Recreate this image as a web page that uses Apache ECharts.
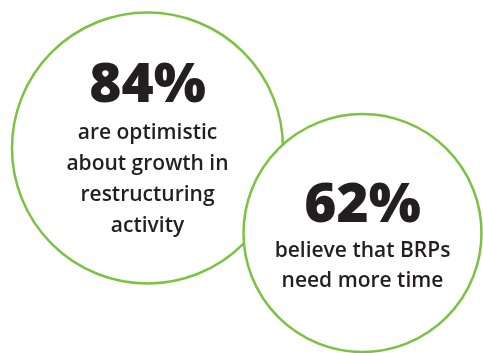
<!DOCTYPE html>
<html>
<head>
<meta charset="utf-8">
<style>
  html, body { margin: 0; padding: 0; background: #ffffff; }
  #chart { width: 483px; height: 353px; }
</style>
<script src="https://cdn.jsdelivr.net/npm/echarts@6/dist/echarts.min.js"></script>
</head>
<body>
<div id="chart"></div>
<script>
// Headline shares and the statements they describe
var shares = [84, 62];
var statements = [
  ['are optimistic', 'about growth in', 'restructuring', 'activity'],
  ['believe that BRPs', 'need more time']
];

// Bubble layout: centre, radius, headline middle, first body line middle, line gap
var bubbles = [
  { cx: 147.5, cy: 148, r: 135.5, headY: 86, bodyY: 133, gap: 31 },
  { cx: 362.5, cy: 233, r: 119, headY: 206, bodyY: 251, gap: 30 }
];

var GREEN = '#7cc242';
var INK = '#231f20';
var FONT = '"Open Sans", "Noto Sans", sans-serif';

var elements = [];
bubbles.forEach(function (b, i) {
  var group = {
    type: 'group',
    children: [
      {
        type: 'circle',
        shape: { cx: b.cx, cy: b.cy, r: b.r },
        style: { fill: '#ffffff', stroke: GREEN, lineWidth: 2.5 }
      },
      {
        type: 'text',
        style: {
          text: shares[i] + '%',
          x: b.cx, y: b.headY,
          textAlign: 'center', textVerticalAlign: 'middle',
          fill: INK,
          font: '800 55px ' + FONT
        }
      }
    ]
  };
  statements[i].forEach(function (line, k) {
    group.children.push({
      type: 'text',
      style: {
        text: line,
        x: b.cx, y: b.bodyY + k * b.gap,
        textAlign: 'center', textVerticalAlign: 'middle',
        fill: INK,
        font: '600 21px ' + FONT
      }
    });
  });
  elements.push(group);
});

var chart = echarts.init(document.getElementById('chart'), null, { renderer: 'canvas' });
chart.setOption({
  backgroundColor: '#ffffff',
  animation: false,
  graphic: { elements: elements }
});
</script>
</body>
</html>
